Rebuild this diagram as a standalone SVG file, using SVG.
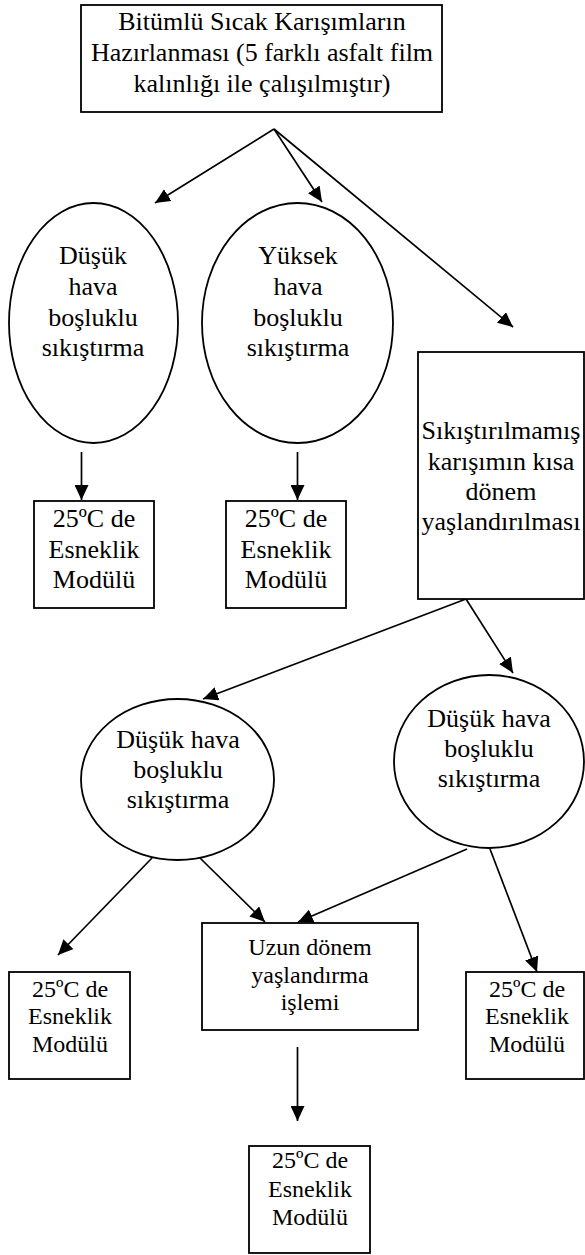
<svg xmlns="http://www.w3.org/2000/svg" width="585" height="1255" viewBox="0 0 585 1255">
<defs>
<marker id="ah" markerWidth="15" markerHeight="14" refX="15" refY="7" orient="auto" markerUnits="userSpaceOnUse">
<path d="M0,0 L15,7 L0,14 z" fill="#000"/>
</marker>
<style>
.n{fill:#fff;stroke:#000;stroke-width:1.8}
.t{font-family:'Liberation Serif','DejaVu Serif',serif;font-size:26px;fill:#000;text-anchor:middle}
.s{font-size:24px}
.c line{stroke:#000;stroke-width:1.7;marker-end:url(#ah)}
</style>
</defs>
<rect width="585" height="1255" fill="#fff"/>
<g class="c" id="connectors">
<line x1="274" y1="129" x2="155" y2="203"/>
<line x1="274" y1="129" x2="322" y2="202"/>
<line x1="274" y1="129" x2="513" y2="327"/>
<line x1="81.5" y1="452" x2="81.5" y2="500"/>
<line x1="297.5" y1="452" x2="297.5" y2="500"/>
<line x1="466" y1="599" x2="203" y2="699"/>
<line x1="466" y1="599" x2="513" y2="673"/>
<line x1="152" y1="858" x2="58" y2="955"/>
<line x1="200" y1="858" x2="265" y2="922"/>
<line x1="467" y1="849" x2="298" y2="922"/>
<line x1="490" y1="849" x2="537" y2="972"/>
<line x1="297.5" y1="1047" x2="297.5" y2="1121"/>
</g>
<g id="top">
<rect class="n" x="81" y="5" width="361" height="107"/>
<text class="t" x="262" y="30">Bitümlü Sıcak Karışımların</text>
<text class="t" x="262" y="61">Hazırlanması (5 farklı asfalt film</text>
<text class="t" x="262" y="92">kalınlığı ile çalışılmıştır)</text>
</g>
<g id="e1">
<ellipse class="n" cx="93.5" cy="323" rx="84.5" ry="120"/>
<text class="t" x="93" y="264">Düşük</text>
<text class="t" x="93" y="295">hava</text>
<text class="t" x="93" y="326">boşluklu</text>
<text class="t" x="93" y="356">sıkıştırma</text>
</g>
<g id="e2">
<ellipse class="n" cx="297.5" cy="323" rx="95.5" ry="120"/>
<text class="t" x="298" y="264">Yüksek</text>
<text class="t" x="298" y="295">hava</text>
<text class="t" x="298" y="326">boşluklu</text>
<text class="t" x="298" y="356">sıkıştırma</text>
</g>
<g id="b1">
<rect class="n" x="34" y="501" width="120" height="107"/>
<text class="t" x="94" y="527">25ºC de</text>
<text class="t" x="94" y="558">Esneklik</text>
<text class="t" x="94" y="588">Modülü</text>
</g>
<g id="b2">
<rect class="n" x="226" y="501" width="120" height="107"/>
<text class="t" x="286" y="527">25ºC de</text>
<text class="t" x="286" y="558">Esneklik</text>
<text class="t" x="286" y="588">Modülü</text>
</g>
<g id="big">
<rect class="n" x="418" y="352" width="166" height="247"/>
<text class="t" x="501" y="439">Sıkıştırılmamış</text>
<text class="t" x="501" y="470">karışımın kısa</text>
<text class="t" x="501" y="500">dönem</text>
<text class="t" x="501" y="530">yaşlandırılması</text>
</g>
<g id="e3">
<ellipse class="n" cx="177.5" cy="779.5" rx="96.5" ry="80.5"/>
<text class="t" x="178" y="748">Düşük hava</text>
<text class="t" x="178" y="778">boşluklu</text>
<text class="t" x="178" y="808">sıkıştırma</text>
</g>
<g id="e4">
<ellipse class="n" cx="489" cy="761.5" rx="95" ry="86.5"/>
<text class="t" x="489" y="727">Düşük hava</text>
<text class="t" x="489" y="757">boşluklu</text>
<text class="t" x="489" y="787">sıkıştırma</text>
</g>
<g id="uzun">
<rect class="n" x="202" y="923" width="216" height="107"/>
<text class="t s" x="310" y="955">Uzun dönem</text>
<text class="t s" x="310" y="983">yaşlandırma</text>
<text class="t s" x="310" y="1010">işlemi</text>
</g>
<g id="b3">
<rect class="n" x="9" y="972" width="121" height="107"/>
<text class="t s" x="70" y="997">25ºC de</text>
<text class="t s" x="70" y="1024">Esneklik</text>
<text class="t s" x="70" y="1052">Modülü</text>
</g>
<g id="b4">
<rect class="n" x="466" y="972" width="118" height="107"/>
<text class="t s" x="527" y="997">25ºC de</text>
<text class="t s" x="527" y="1024">Esneklik</text>
<text class="t s" x="527" y="1052">Modülü</text>
</g>
<g id="b5">
<rect class="n" x="249" y="1146" width="121" height="107"/>
<text class="t s" x="310" y="1168">25ºC de</text>
<text class="t s" x="310" y="1197">Esneklik</text>
<text class="t s" x="310" y="1225">Modülü</text>
</g>
</svg>
